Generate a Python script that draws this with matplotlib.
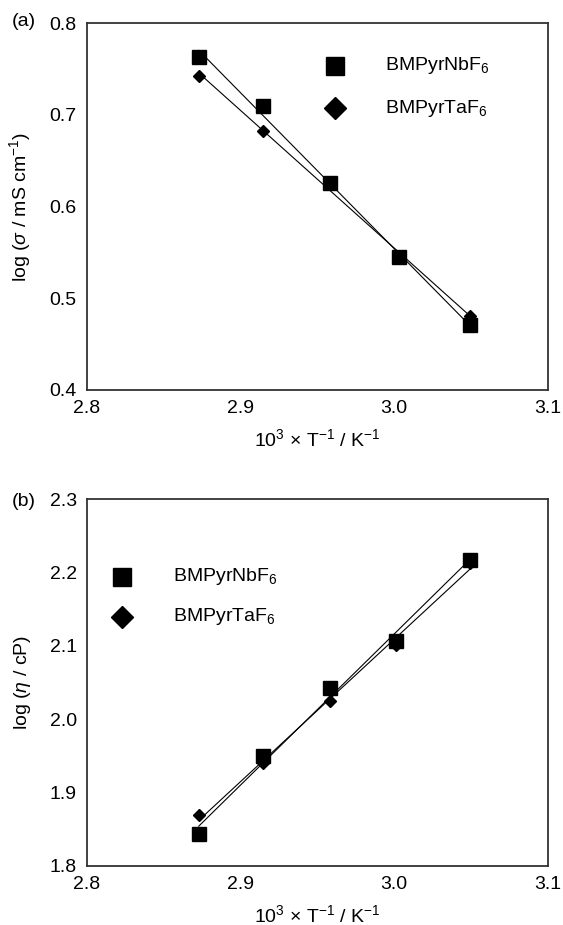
import numpy as np
import matplotlib
matplotlib.use("Agg")
import matplotlib.pyplot as plt

plt.rcParams['font.family'] = ['Liberation Sans', 'DejaVu Sans']
plt.rcParams['mathtext.fontset'] = 'custom'
plt.rcParams['mathtext.rm'] = 'Liberation Sans'
plt.rcParams['mathtext.it'] = 'Liberation Sans:italic'
plt.rcParams['mathtext.default'] = 'regular'

# ---- data ----
x_a = [2.873, 2.915, 2.958, 3.003, 3.049]
nb_sigma = [0.763, 0.710, 0.626, 0.545, 0.471]
ta_sigma = [0.743, 0.683, 0.625, 0.546, 0.481]

x_b = [2.873, 2.915, 2.958, 3.001, 3.049]
nb_eta = [1.844, 1.950, 2.042, 2.107, 2.217]
ta_eta = [1.869, 1.940, 2.025, 2.101, 2.213]

series_names = ["BMPyrNbF$_6$", "BMPyrTaF$_6$"]
xticks = [2.8, 2.9, 3.0, 3.1]
yticks_a = [0.4, 0.5, 0.6, 0.7, 0.8]
yticks_b = [1.8, 1.9, 2.0, 2.1, 2.2, 2.3]

W, H = 563, 925
fig = plt.figure(figsize=(W/100, H/100), dpi=100)

def px_axes(l, t, r, b):
    return fig.add_axes([l/W, 1-b/H, (r-l)/W, (b-t)/H])

ax_a = px_axes(86.5, 23.3, 548, 390)
ax_b = px_axes(86.5, 499, 548, 866)

fs = 14

def draw(ax, x, y1, y2, yticks, ylim, ylabel, leg_pos, panel, panel_y):
    for y, mk, ms in [(y1, 's', 9.5), (y2, 'D', 6.5)]:
        xa = np.array(x); ya = np.array(y)
        p = np.polyfit(xa, ya, 1)
        ax.plot([xa.min(), xa.max()], np.polyval(p, [xa.min(), xa.max()]),
                color='black', lw=0.8, zorder=2)
        ax.plot(xa, ya, ls='none', marker=mk, ms=ms, color='black', zorder=3)
    ax.set_xlim(2.8, 3.1)
    ax.set_ylim(*ylim)
    ax.set_xticks(xticks)
    ax.set_xticklabels([f"{v:.1f}" for v in xticks])
    ax.set_yticks(yticks)
    ax.set_yticklabels([f"{v:.1f}" for v in yticks])
    ax.tick_params(length=0, labelsize=fs, pad=7)
    for s in ax.spines.values():
        s.set_linewidth(1.3)
        s.set_color('#333333')
    ax.set_xlabel("10$^3$ × T$^{-1}$ / K$^{-1}$", fontsize=fs, labelpad=8)
    ax.set_ylabel(ylabel, fontsize=fs, labelpad=12)
    (mx, tx, y1p, y2p) = leg_pos
    ax.plot([mx], [y1p], marker='s', ms=12.5, color='black', transform=ax.transAxes, clip_on=False)
    ax.plot([mx], [y2p], marker='D', ms=11, color='black', transform=ax.transAxes, clip_on=False)
    ax.text(tx, y1p, series_names[0], transform=ax.transAxes, fontsize=fs, va='center', ha='left')
    ax.text(tx, y2p, series_names[1], transform=ax.transAxes, fontsize=fs, va='center', ha='left')
    fig.text(12/W, 1 - panel_y/H, panel, fontsize=fs, ha='left', va='center')

draw(ax_a, x_a, nb_sigma, ta_sigma, yticks_a, (0.4, 0.8),
     r"log ($\it{\sigma}$ / mS cm$^{-1}$)", (0.5385, 0.646, 0.884, 0.769), "(a)", 22)
draw(ax_b, x_b, nb_eta, ta_eta, yticks_b, (1.8, 2.3),
     r"log ($\it{\eta}$ / cP)", (0.076, 0.188, 0.788, 0.679), "(b)", 501)

fig.savefig("out.png", dpi=100)
